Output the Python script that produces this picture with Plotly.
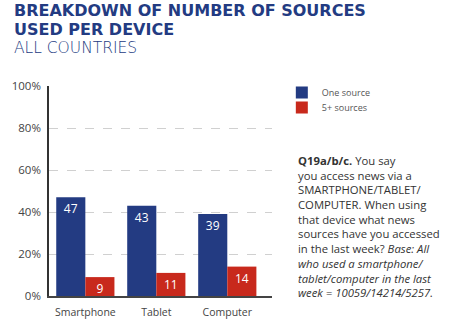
import plotly.graph_objects as go

categories = ["Smartphone", "Tablet", "Computer"]
one_source = [47, 43, 39]
five_plus = [9, 11, 14]
series_names = ["One source", "5+ sources"]
y_ticks = [0, 20, 40, 60, 80, 100]
y_tick_labels = ["0%", "20%", "40%", "60%", "80%", "100%"]

BLUE = "#233B82"
RED = "#C8291C"
FONT = "Open Sans, Liberation Sans, sans-serif"
TFONT = "DejaVu Sans, sans-serif"

W, H = 451, 331
L, R, T, B = 45, 179, 86, 35
pw, ph = W - L - R, H - T - B


def px(x):
    return (x - L) / pw


def py(y):
    return (H - B - y) / ph


fig = go.Figure()
legends = ["legend", "legend2"]
for name, vals, col, lg in [(series_names[0], one_source, BLUE, legends[0]),
                            (series_names[1], five_plus, RED, legends[1])]:
    fig.add_trace(go.Bar(
        x=list(range(len(categories))), y=vals, name=name, legend=lg,
        marker=dict(color=col, line=dict(width=0)),
        text=[str(v) for v in vals], textposition="inside", insidetextanchor="end",
        textangle=0,
        textfont=dict(color="white", size=12, family=FONT),
        constraintext="none", cliponaxis=False,
    ))

leg_common = dict(xanchor="left", yanchor="middle",
                  font=dict(size=9, color="#555", family=FONT),
                  itemwidth=30, bgcolor="rgba(0,0,0,0)", borderwidth=0)

fig.update_layout(
    width=W, height=H, margin=dict(l=L, r=R, t=T, b=B),
    paper_bgcolor="white", plot_bgcolor="white",
    barmode="group", bargap=0.18, bargroupgap=0,
    font=dict(family=FONT, color="#444"),
    showlegend=True,
    legend=dict(x=px(282), y=py(92.5), **leg_common),
    legend2=dict(x=px(282), y=py(107.5), **leg_common),
    xaxis=dict(range=[-0.512, 2.63], tickvals=[0, 1, 2], ticktext=categories,
               showline=True, linecolor="#444", linewidth=1.5, ticks="",
               showgrid=False, zeroline=False, ticklabelstandoff=6,
               tickfont=dict(size=10.5, color="#444", family=FONT)),
    yaxis=dict(range=[0, 100], tickvals=y_ticks, ticktext=y_tick_labels,
               showline=True, linecolor="#333", linewidth=1.5, ticks="",
               showgrid=True, gridcolor="#d0d0d0", griddash="dash", gridwidth=1,
               zeroline=False, ticklabelstandoff=4,
               tickfont=dict(size=11.5, color="#444", family=FONT)),
)

title_lines = [
    ("<b>BREAKDOWN OF NUMBER OF SOURCES</b>", 11, 16, "bold"),
    ("<b>USED PER DEVICE</b>", 29, 16, "bold"),
    ("ALL COUNTRIES", 47.5, 15.5, 200),
]
for txt, yc, sz, wt in title_lines:
    fig.add_annotation(text=txt, xref="paper", yref="paper", x=px(7), y=py(yc),
                       xanchor="left", yanchor="middle", showarrow=False, height=17,
                       font=dict(size=sz, color=BLUE, family=TFONT, weight=wt))

note = ("<b>Q19a/b/c.</b> You say<br>you access news via a<br>SMARTPHONE/TABLET/<br>"
        "COMPUTER. When using<br>that device what news<br>sources have you accessed<br>"
        "in the last week? <i>Base: All<br>who used a smartphone/<br>"
        "tablet/computer in the last<br>week = 10059/14214/5257.</i>")
fig.add_annotation(text=note, xref="paper", yref="paper", x=px(296), y=py(151),
                   xanchor="left", yanchor="top", align="left", showarrow=False,
                   font=dict(size=11.3, color="#333", family=FONT))

fig.write_html("out.html")
